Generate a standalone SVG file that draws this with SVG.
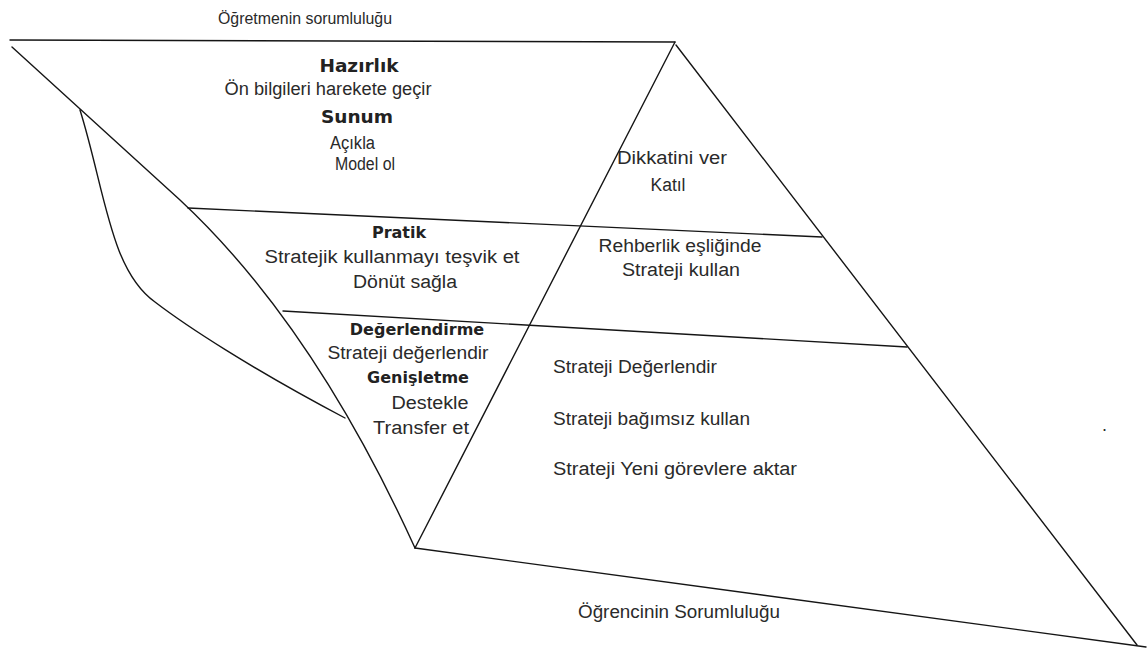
<svg xmlns="http://www.w3.org/2000/svg" width="1148" height="655" viewBox="0 0 1148 655">
<style>
.ln{fill:none;stroke:#151515;stroke-width:1.4;stroke-linejoin:round;stroke-linecap:round}
.t{font-family:"Liberation Sans",Arial,sans-serif;font-size:18px;fill:#2a2a2a}
.s{font-size:16px}
.b{font-family:"DejaVu Sans","Liberation Sans",sans-serif;font-weight:bold;font-size:16px;fill:#222}
.bb{font-size:18.5px}
.m{text-anchor:middle}
</style>
<rect width="1148" height="655" fill="#fff"/>
<g id="connectors">
<path class="ln" d="M10,40 L675,42"/>
<path class="ln" d="M12,47 L180,200 Q313,324 415,548"/>
<path class="ln" d="M80,110 C105,190 110,270 155,302 C185,325 250,368 345,418"/>
<path class="ln" d="M675,42 L415,548"/>
<path class="ln" d="M676,45 L1137,645"/>
<path class="ln" d="M188,208 L822,237"/>
<path class="ln" d="M283,311 L907,347"/>
<path class="ln" d="M415,548 L1146,647"/>
</g>
<g id="title-teacher"><text class="t s m" x="305" y="24" textLength="174" lengthAdjust="spacingAndGlyphs">Öğretmenin sorumluluğu</text></g>
<g id="hazirlik">
<text class="b bb m" x="359" y="72">Hazırlık</text>
<text class="t m" x="328" y="95" textLength="207" lengthAdjust="spacingAndGlyphs">Ön bilgileri harekete geçir</text>
</g>
<g id="sunum">
<text class="b bb m" x="357" y="123">Sunum</text>
<text class="t" x="330" y="149" textLength="45" lengthAdjust="spacingAndGlyphs">Açıkla</text>
<text class="t" x="335" y="170" textLength="60" lengthAdjust="spacingAndGlyphs">Model ol</text>
</g>
<g id="dikkat">
<text class="t m" x="672" y="164" textLength="110" lengthAdjust="spacingAndGlyphs">Dikkatini ver</text>
<text class="t m" x="668" y="191" textLength="35" lengthAdjust="spacingAndGlyphs">Katıl</text>
</g>
<g id="pratik">
<text class="b m" x="399" y="238">Pratik</text>
<text class="t m" x="392" y="263" textLength="255" lengthAdjust="spacingAndGlyphs">Stratejik kullanmayı teşvik et</text>
<text class="t m" x="405" y="288" textLength="104" lengthAdjust="spacingAndGlyphs">Dönüt sağla</text>
</g>
<g id="rehberlik">
<text class="t m" x="680" y="252" textLength="163" lengthAdjust="spacingAndGlyphs">Rehberlik eşliğinde</text>
<text class="t m" x="681" y="276" textLength="118" lengthAdjust="spacingAndGlyphs">Strateji kullan</text>
</g>
<g id="degerlendirme">
<text class="b m" x="417" y="335">Değerlendirme</text>
<text class="t m" x="408" y="359" textLength="161" lengthAdjust="spacingAndGlyphs">Strateji değerlendir</text>
</g>
<g id="genisletme">
<text class="b m" x="418" y="383">Genişletme</text>
<text class="t m" x="430" y="409" textLength="77" lengthAdjust="spacingAndGlyphs">Destekle</text>
<text class="t m" x="421" y="434" textLength="96" lengthAdjust="spacingAndGlyphs">Transfer et</text>
</g>
<g id="bagimsiz">
<text class="t" x="553" y="373" textLength="164" lengthAdjust="spacingAndGlyphs">Strateji Değerlendir</text>
<text class="t" x="553" y="425" textLength="197" lengthAdjust="spacingAndGlyphs">Strateji bağımsız kullan</text>
<text class="t" x="553" y="475" textLength="244" lengthAdjust="spacingAndGlyphs">Strateji Yeni görevlere aktar</text>
</g>
<g id="title-student"><text class="t m" x="679" y="618" textLength="202" lengthAdjust="spacingAndGlyphs">Öğrencinin Sorumluluğu</text></g>
<g id="dot"><text class="t" x="1102" y="431">.</text></g>
</svg>
